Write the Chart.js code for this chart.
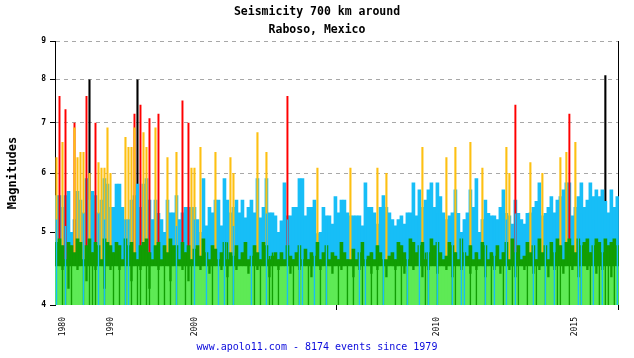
<!DOCTYPE html>
<html><head><meta charset="utf-8">
<script src="https://cdn.jsdelivr.net/npm/chart.js@4/dist/chart.umd.min.js"></script>
<style>html,body{margin:0;padding:0;background:#fff}#wrap{width:634px;height:358px}</style>
</head><body><div id="wrap"><canvas id="c" width="634" height="358"></canvas></div>
<script>
const titleLines = ['Seismicity 700 km around', 'Raboso, Mexico'];
const footerText = 'www.apolo11.com - 8174 events since 1979';
const yTitle = 'Magnitudes';
const magTicks = [4, 5, 6, 7, 8, 9];
const tickYears = ['1980', '1990', '2000', '2010', '2015'];
const tickCols = [2, 18, 46, 127, 173];
const markCols = [94];
const columnCount = 188;

const blueMag = [5.6,5.6,5.4,5.6,5.67,5.0,5.2,5.67,5.52,5.31,5.9,5.52,5.67,5.6,5.31,5.52,5.9,5.8,5.4,5.4,
5.8,5.8,5.4,5.2,5.2,5.52,5.6,5.8,5.4,5.8,5.9,5.52,5.2,5.52,5.3,5.2,5.0,5.52,5.31,5.31,
5.6,5.2,5.31,5.4,5.4,5.4,5.4,5.2,5.0,5.9,5.1,5.4,5.31,5.52,5.52,5.1,5.9,5.52,5.31,5.4,
5.52,5.31,5.52,5.23,5.4,5.52,5.31,5.9,5.23,5.4,5.9,5.31,5.31,5.26,5.0,5.18,5.82,5.26,5.26,5.4,
5.4,5.9,5.9,5.26,5.4,5.4,5.52,4.98,5.0,5.4,5.26,5.26,5.13,5.58,5.31,5.52,5.52,5.31,5.26,5.26,
5.26,5.26,5.1,5.82,5.4,5.4,5.31,5.13,5.4,5.6,5.4,5.31,5.2,5.1,5.2,5.26,5.13,5.31,5.31,5.82,
5.26,5.7,5.4,5.52,5.7,5.82,5.4,5.82,5.58,5.31,5.2,5.26,5.31,5.7,5.3,5.0,5.2,5.31,5.7,5.4,
5.9,5.0,5.2,5.52,5.3,5.26,5.26,5.2,5.4,5.7,5.3,5.26,5.13,5.52,5.3,5.2,5.13,5.3,5.31,5.4,
5.5,5.82,5.26,5.3,5.4,5.58,5.31,5.52,5.58,5.7,5.82,5.82,5.26,5.4,5.58,5.82,5.4,5.52,5.82,5.58,
5.7,5.58,5.7,5.5,5.31,5.7,5.4,5.58];

const darkGreenMag = [4.85,4.9,4.8,4.6,4.85,4.8,4.7,4.9,4.85,4.6,4.8,4.9,4.7,4.85,4.8,4.6,4.9,4.85,4.8,4.7,
4.85,4.8,4.6,4.9,4.8,4.85,4.7,4.6,4.8,4.85,4.9,4.7,4.6,4.8,4.85,4.6,4.8,4.7,4.9,4.8,
4.8,4.6,4.85,4.7,4.8,4.6,4.75,4.8,4.65,4.9,4.7,4.6,4.8,4.75,4.6,4.7,4.85,4.6,4.7,4.65,
4.8,4.6,4.7,4.85,4.6,4.65,4.8,4.7,4.6,4.85,4.8,4.6,4.65,4.7,4.6,4.7,4.6,4.8,4.65,4.6,
4.7,4.8,4.6,4.75,4.6,4.7,4.65,4.85,4.6,4.7,4.8,4.6,4.7,4.65,4.6,4.85,4.7,4.6,4.6,4.75,
4.6,4.7,4.85,4.6,4.65,4.7,4.6,4.8,4.7,4.6,4.6,4.65,4.7,4.6,4.85,4.8,4.7,4.6,4.9,4.85,
4.7,4.8,4.85,4.6,4.7,4.9,4.8,4.85,4.7,4.6,4.65,4.85,4.8,4.7,4.6,4.9,4.7,4.65,4.8,4.6,
4.7,4.6,4.85,4.8,4.6,4.7,4.65,4.8,4.6,4.7,4.85,4.6,4.9,4.7,4.8,4.6,4.65,4.85,4.7,4.8,
4.6,4.9,4.7,4.8,4.6,4.85,4.7,4.9,4.8,4.6,4.85,4.9,4.8,4.7,4.9,4.8,4.85,4.9,4.7,4.8,
4.9,4.85,4.7,4.9,4.8,4.85,4.9,4.8];

const lightGreenMag = [4.5,4.5,4.45,4.5,4.2,4.5,4.5,4.45,4.5,4.5,4.3,4.5,4.5,4.45,4.5,4.5,4.2,4.5,4.45,4.5,
4.5,4.45,4.5,4.5,4.5,4.3,4.5,4.5,4.45,4.5,4.5,4.2,4.5,4.5,4.45,4.5,4.5,4.5,4.3,4.5,
4.5,4.5,4.45,4.5,4.3,4.5,4.5,4.5,4.45,4.5,4.5,4.4,4.5,4.5,4.5,4.45,4.5,4.35,4.5,4.5,
4.45,4.5,4.5,4.5,4.4,4.5,4.5,4.45,4.5,4.5,4.5,4.35,4.5,4.5,4.45,4.5,4.5,4.5,4.4,4.5,
4.5,4.45,4.5,4.5,4.5,4.35,4.5,4.5,4.45,4.5,4.5,4.5,4.4,4.5,4.5,4.45,4.5,4.5,4.5,4.35,
4.5,4.45,4.5,4.5,4.5,4.4,4.5,4.45,4.5,4.5,4.35,4.5,4.5,4.45,4.5,4.5,4.4,4.5,4.5,4.45,
4.5,4.5,4.35,4.5,4.45,4.5,4.5,4.4,4.5,4.5,4.45,4.5,4.35,4.5,4.5,4.45,4.5,4.5,4.4,4.5,
4.45,4.5,4.5,4.35,4.5,4.5,4.45,4.5,4.4,4.5,4.5,4.45,4.5,4.35,4.5,4.5,4.45,4.5,4.5,4.4,
4.5,4.45,4.5,4.5,4.35,4.5,4.45,4.5,4.5,4.4,4.5,4.5,4.45,4.5,4.35,4.5,4.5,4.45,4.5,4.5,
4.4,4.5,4.45,4.5,4.5,4.35,4.5,4.5];

// thin late events drawn over the green band
const darkStripeCols = [2,3,5,9,11,12,13,16,19,21,23,25,27,28,30,31,34,36,38,40,43,45,52,57,59,66,68,71,72,74,79,81,84,88,90,94,97,99,102,105,107,109,113,115,117,123,124,127,132,133,138,140,143,145,149,152,154,157,160,163,167,168,171,175,178,181,183,184,186];
const darkStripeMag  = [4.8,4.6,4.8,4.6,4.9,4.7,4.85,4.9,4.7,4.8,4.9,4.85,4.6,4.8,4.9,4.7,4.85,4.8,4.9,4.8,4.7,4.6,4.8,4.85,4.7,4.8,4.6,4.65,4.7,4.6,4.6,4.8,4.6,4.6,4.8,4.6,4.6,4.6,4.85,4.7,4.8,4.6,4.6,4.8,4.6,4.7,4.7,4.85,4.8,4.7,4.8,4.7,4.8,4.7,4.7,4.9,4.8,4.85,4.6,4.8,4.9,4.8,4.9,4.8,4.7,4.85,4.9,4.8,4.9];
const blueStripeCols = [0,3,9,14,16,23,24,40,46,50,54,56,59,65,70,77,81,82,86,90,101,103,109,117,121,124,127,132,135,136,143,146,150,153,159,163,166,174,175,179,182,187];
const blueStripeMag  = [5.2,5.1,5.3,5.3,5.2,5.2,5.2,5.1,5.2,5.1,5.3,5.2,5.1,5.2,5.3,5.2,5.3,5.2,5.1,5.2,5.2,5.1,5.2,5.2,5.3,5.2,5.3,5.2,5.0,5.2,5.3,5.2,5.2,5.3,5.2,5.2,5.2,5.3,5.3,5.2,5.3,5.3];

const orangeCols = [0,2,6,7,8,9,11,14,15,16,17,18,23,24,25,26,29,30,33,37,40,45,46,48,53,58,59,67,70,87,98,107,110,122,130,133,138,142,150,151,158,162,168,170,173];
const orangeMag  = [6.3,6.6,6.9,6.3,6.4,6.4,6.0,6.2,6.1,6.1,6.9,6.0,6.7,6.5,6.5,6.9,6.8,6.5,6.9,6.3,6.4,6.1,6.1,6.5,6.4,6.3,6.0,6.8,6.4,6.1,6.1,6.1,6.0,6.5,6.3,6.5,6.6,6.1,6.5,6.0,6.2,6.0,6.3,6.4,6.6];
const redCols = [1,3,6,10,13,26,28,31,34,42,44,77,153,171];
const redMag  = [7.6,7.3,7.0,7.6,7.0,7.2,7.4,7.1,7.2,7.5,7.0,7.6,7.4,7.2];
const blackCols = [11,27,183];
const blackMag  = [8.0,8.0,8.1];

const columns = Array.from({length: columnCount}, (_, i) => i);
const pairs = (cols, mags) => cols.map((c, k) => ({x: c, y: mags[k]}));
const MONO = "'DejaVu Sans Mono', 'Liberation Mono', monospace";
const C = {lt: '#5eea55', dk: '#129e04', blue: '#17bef7', orange: '#fdc012', red: '#ff0000', black: '#000000'};
const GRID_DASH = [4, 4];

new Chart(document.getElementById('c'), {
  type: 'bar',
  data: {
    labels: columns,
    datasets: [
      {data: pairs(blueStripeCols, blueStripeMag), backgroundColor: C.blue, barPercentage: 0.45},
      {data: pairs(darkStripeCols, darkStripeMag), backgroundColor: C.dk, barPercentage: 0.45},
      {data: lightGreenMag, backgroundColor: C.lt},
      {data: darkGreenMag, backgroundColor: C.dk},
      {data: pairs(orangeCols, orangeMag), backgroundColor: C.orange, barPercentage: 0.7},
      {data: pairs(redCols, redMag), backgroundColor: C.red, barPercentage: 0.65},
      {data: blueMag, backgroundColor: C.blue},
      {data: pairs(blackCols, blackMag), backgroundColor: C.black, barPercentage: 0.7}
    ]
  },
  options: {
    responsive: false,
    animation: false,
    events: [],
    layout: {padding: 0},
    datasets: {bar: {grouped: false, barPercentage: 1, categoryPercentage: 1, borderWidth: 0, yAxisID: 'y'}},
    plugins: {
      legend: {display: false},
      tooltip: {enabled: false},
      title: {
        display: true, text: titleLines, color: '#000',
        font: {family: MONO, size: 11.5, weight: 'bold', lineHeight: 1.48},
        padding: {top: 4, bottom: 3}
      },
      subtitle: {
        display: true, position: 'bottom', text: footerText, color: '#0a0adc',
        font: {family: MONO, size: 10, weight: 'normal', lineHeight: 1.2},
        padding: {top: 0, bottom: 5}
      }
    },
    scales: {
      x: {
        type: 'category',
        offset: true,
        border: {display: false},
        grid: {
          display: true, drawOnChartArea: false, drawTicks: true, tickLength: 5,
          color: ctx => (ctx.type === 'scale' || markCols.includes(ctx.index)) ? '#000' : 'rgba(0,0,0,0)'
        },
        ticks: {
          autoSkip: false, minRotation: 90, maxRotation: 90, padding: 7, color: '#000',
          font: {family: MONO, size: 8},
          callback: (v, i) => { const k = tickCols.indexOf(i); return k >= 0 ? tickYears[k] : ''; }
        },
        afterFit: s => { s.height = 36; }
      },
      y: {
        type: 'logarithmic', position: 'left', min: 4, max: 9,
        afterBuildTicks: s => { s.ticks = magTicks.map(v => ({value: v})); },
        border: {display: true, color: '#000', width: 1, dash: GRID_DASH, dashOffset: 0},
        grid: {
          color: ctx => (ctx.tick && ctx.tick.value === 4) ? 'rgba(0,0,0,0)' : '#a8a8a8',
          borderDash: GRID_DASH, lineWidth: 1,
          tickColor: '#000', tickLength: 5, tickBorderDash: [0, 0]
        },
        ticks: {
          padding: 4, color: '#000', font: {family: MONO, size: 8, weight: 'bold'},
          callback: v => String(v)
        },
        title: {
          display: true, text: yTitle, color: '#000',
          font: {family: MONO, size: 12, weight: 'bold'}, padding: {top: 6, bottom: 0}
        },
        afterFit: s => { s.width = 55; }
      },
      y2: {
        type: 'linear', position: 'right',
        border: {display: true, color: '#000', width: 1},
        grid: {display: true, drawOnChartArea: false, drawTicks: false},
        ticks: {display: false},
        afterFit: s => { s.width = 14; }
      }
    }
  }
});
</script>
</body></html>
